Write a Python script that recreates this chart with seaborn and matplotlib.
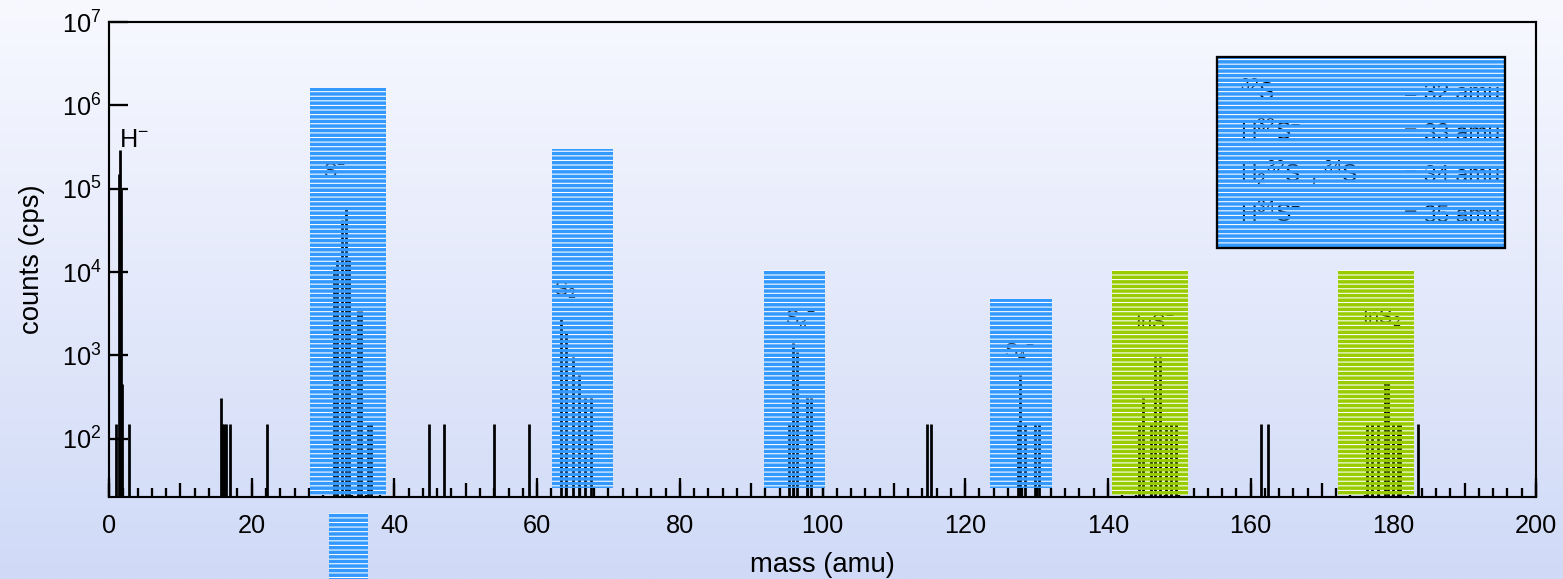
import numpy as np
import matplotlib
matplotlib.use("Agg")
import matplotlib.pyplot as plt
import seaborn as sns
from matplotlib.patches import Rectangle
from matplotlib.ticker import (MultipleLocator, FuncFormatter, LogLocator,
                               LogFormatterSciNotation, NullLocator)

# ---------------- data ----------------
peak_mass = [1.0, 1.35, 1.5, 1.65, 1.8, 2.8,
             15.65, 15.9, 16.1, 16.4, 17.0, 22.1,
             31.5, 32.0, 32.6, 33.2, 33.7, 34.9, 35.3, 36.3, 36.7,
             44.8, 47.0, 53.9, 58.9,
             63.4, 64.0, 65.0, 65.9, 66.7, 67.5,
             95.3, 95.9, 96.4, 97.8, 98.4,
             114.6, 115.2,
             127.4, 127.7, 128.4, 129.8, 130.3,
             144.4, 144.9, 146.0, 146.6, 147.3, 148.2, 148.8, 149.5,
             161.4, 162.5,
             176.3, 177.0, 177.8, 178.8, 179.2, 180.0, 180.6, 181.0,
             183.5]
peak_counts = [150, 1.5e5, 2.9e5, 1.0e5, 460, 150,
               310, 150, 150, 150, 150, 150,
               1.1e4, 1.4e4, 4.2e4, 6.0e4, 1.4e4, 3.4e3, 3.4e3, 150, 150,
               150, 150, 150, 150,
               2.7e3, 1.9e3, 950, 580, 310, 310,
               150, 1400, 1100, 310, 310,
               150, 150,
               150, 580, 150, 150, 150,
               150, 310, 150, 950, 950, 150, 150, 150,
               150, 150,
               150, 150, 150, 470, 470, 150, 150, 150,
               150]

box_labels = ["S$^{-}$", "S$_2$$^{-}$", "S$_3$$^{-}$", "S$_4$$^{-}$", "InS$^{-}$", "InS$_2$$^{-}$"]
box_left = [28.2, 62.1, 91.8, 123.5, 140.6, 172.2]
box_right = [38.8, 70.6, 100.4, 132.2, 151.2, 182.9]
box_top = [1.6e6, 3.0e5, 1.05e4, 4.7e3, 1.05e4, 1.05e4]
box_bottom = [21, 26, 26, 26, 21, 21]
box_kind = ["S", "S", "S", "S", "In", "In"]

legend_left = ["$^{32}$S$^{-}$", "H$^{32}$S$^{-}$", "H$_2$$^{32}$S$^{-}$, $^{34}$S$^{-}$", "H$^{34}$S$^{-}$"]
legend_right = ["= 32 amu", "= 33 amu", "= 34 amu", "= 35 amu"]

# ---------------- layout / style ----------------
label_pos = [(31.6, 1.6e5), (64.6, 6.0e3), (96.9, 2.7e3), (127.7, 1.1e3), (146.6, 2.5e3), (179.0, 2.8e3)]
legend_rows_y = [1.16e6, 3.8e5, 1.2e5, 4.0e4]
legend_box = (155.3, 195.6, 1.94e4, 3.8e6)
kind_color = {"S": "#3399FF", "In": "#99CC00"}

sns.set_theme(style="ticks")
plt.rcParams["font.family"] = ["Liberation Sans", "DejaVu Sans"]
plt.rcParams["mathtext.fontset"] = "custom"
plt.rcParams["mathtext.rm"] = "Liberation Sans"
plt.rcParams["mathtext.it"] = "Liberation Sans:italic"
plt.rcParams["mathtext.bf"] = "Liberation Sans:bold"
plt.rcParams["mathtext.default"] = "regular"
plt.rcParams["hatch.linewidth"] = 2.3
plt.rcParams["text.color"] = "black"
plt.rcParams["axes.labelcolor"] = "black"
plt.rcParams["xtick.color"] = "black"
plt.rcParams["ytick.color"] = "black"

DPI = 110
W, H = 1563, 579
fig = plt.figure(figsize=(W / DPI, H / DPI), dpi=DPI)

# gradient background
bg = fig.add_axes([0, 0, 1, 1], zorder=-10)
t = np.linspace(0, 1, 256)[:, None, None]
c_top = np.array([248, 249, 255]) / 255
c_bot = np.array([208, 218, 247]) / 255
bg.imshow(c_top + (c_bot - c_top) * t, aspect="auto", extent=[0, 1, 0, 1], origin="upper")
bg.axis("off")

ax = fig.add_axes([109 / W, 1 - 497 / H, (1536 - 109) / W, (497 - 22) / H])
ax.patch.set_alpha(0)
ax.set_yscale("log")
ax.set_xlim(0, 200)
ax.set_ylim(20, 1e7)

# peaks
ax.vlines(peak_mass, 20, peak_counts, colors="black", linewidth=1.8, zorder=2)

# striped boxes
colors = [kind_color[k] for k in box_kind]
widths = np.array(box_right) - np.array(box_left)
heights = np.array(box_top) - np.array(box_bottom)
ax.bar(box_left, heights, width=widths, bottom=box_bottom, align="edge",
       color="white", linewidth=0, zorder=1.5)
for lab, (lx, ly) in zip(box_labels, label_pos):
    ax.text(lx, ly, lab, fontsize=13, ha="center", va="center", color="#222222", zorder=2.5)
ax.bar(box_left, heights, width=widths, bottom=box_bottom, align="edge",
       facecolor="none", edgecolor=colors, linewidth=0, hatch="----", zorder=3)

# legend-like box
lx0, lx1, ly0, ly1 = legend_box
ax.add_patch(Rectangle((lx0, ly0), lx1 - lx0, ly1 - ly0, facecolor="white", linewidth=0, zorder=1.5))
for txt_l, txt_r, yy in zip(legend_left, legend_right, legend_rows_y):
    ax.text(lx0 + 3.2, yy, txt_l, fontsize=15, ha="left", va="baseline", zorder=2.5)
    ax.text(lx1 - 0.6, yy, txt_r, fontsize=15, ha="right", va="baseline", zorder=2.5)
ax.add_patch(Rectangle((lx0, ly0), lx1 - lx0, ly1 - ly0, facecolor="none", edgecolor="#3399FF",
                       linewidth=0, hatch="----", zorder=3))
ax.add_patch(Rectangle((lx0, ly0), lx1 - lx0, ly1 - ly0, facecolor="none", edgecolor="black",
                       linewidth=1.5, zorder=3.5))

# H- label
ax.text(1.4, 3.2e5, "H$^{-}$", fontsize=16.5, ha="left", va="baseline", zorder=4)

# stray striped patch below the axes
fr = (329 / W, 0.0, 39 / W, 66 / H)
fig.add_artist(Rectangle(fr[:2], fr[2], fr[3], transform=fig.transFigure,
                         facecolor="white", linewidth=0, zorder=5))
fig.add_artist(Rectangle(fr[:2], fr[2], fr[3], transform=fig.transFigure,
                         facecolor="none", edgecolor="#3399FF", linewidth=0, hatch="----", zorder=6))

# axes styling
for s in ax.spines.values():
    s.set_linewidth(1.4)
    s.set_color("black")
    s.set_zorder(4)
ax.grid(False)
ax.tick_params(axis="both", which="both", direction="in", top=False, right=False,
               colors="black", width=1.5)
ax.yaxis.set_major_locator(LogLocator(base=10, numticks=12))
ax.yaxis.set_major_formatter(LogFormatterSciNotation())
ax.yaxis.set_minor_locator(NullLocator())
ax.tick_params(axis="y", which="major", length=12.4, labelsize=16.5, pad=5)
ax.xaxis.set_major_locator(MultipleLocator(10))
ax.xaxis.set_minor_locator(MultipleLocator(2))
ax.xaxis.set_major_formatter(FuncFormatter(lambda v, p: f"{int(round(v))}" if int(round(v)) % 20 == 0 else ""))
ax.tick_params(axis="x", which="major", length=9.2, labelsize=16.5, pad=11)
ax.tick_params(axis="x", which="minor", length=5.9)

sec = ax.secondary_xaxis("bottom")
sec.set_xticks(np.arange(0, 201, 20))
sec.tick_params(direction="in", length=12.4, width=1.5, labelbottom=False, colors="black")
sec.spines["bottom"].set_visible(False)

ax.set_xlabel("mass (amu)", fontsize=18, labelpad=9)
ax.set_ylabel("counts (cps)", fontsize=18, labelpad=11)

fig.savefig("out.png", dpi=DPI)
